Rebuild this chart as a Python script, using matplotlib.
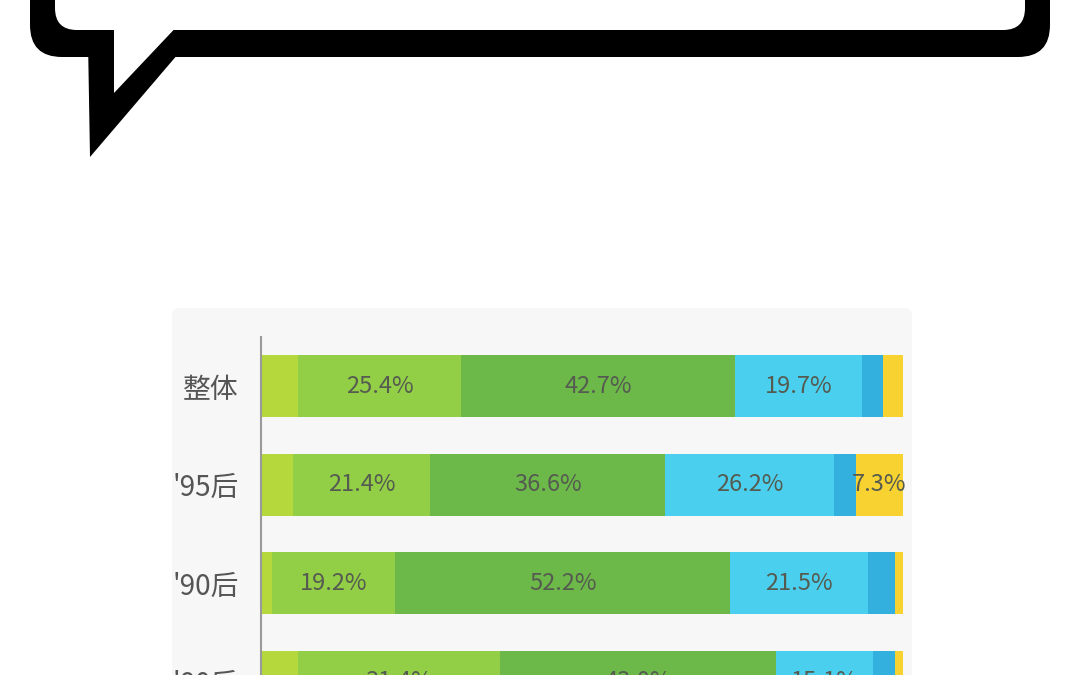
import matplotlib
matplotlib.use("Agg")
import matplotlib.pyplot as plt
from matplotlib.patches import FancyBboxPatch, Polygon
import numpy as np

plt.rcParams['font.family'] = ['Noto Sans CJK SC', 'DejaVu Sans']

# data
categories = ["整体", "'95后", "'90后", "'80后"]
seg1 = [5.8, 5.0, 1.7, 5.8]
seg2 = [25.4, 21.4, 19.2, 31.4]
seg3 = [42.7, 36.6, 52.2, 43.0]
seg4 = [19.7, 26.2, 21.5, 15.1]
seg5 = [3.3, 3.5, 4.2, 3.4]
seg6 = [3.1, 7.3, 1.2, 1.3]
series = [seg1, seg2, seg3, seg4, seg5, seg6]
colors = ['#b5d93c', '#92ce46', '#6cb94a', '#4ad0ee', '#34b0de', '#f7d230']

W, H = 1080, 675
fig = plt.figure(figsize=(W / 100, H / 100), dpi=100)
fig.patch.set_facecolor('white')

# background layer in pixel coords
bg = fig.add_axes([0, 0, 1, 1])
bg.set_xlim(0, W)
bg.set_ylim(H, 0)
bg.axis('off')

# speech bubble (top cut off)
bg.add_patch(FancyBboxPatch((30 + 32, -200), 1020 - 64, 257 - 32,
                            boxstyle="round,pad=32", fc='black', ec='none'))
bg.add_patch(Polygon([(88, 40), (90, 157), (190, 40)], closed=True, fc='black', ec='none'))
bg.add_patch(FancyBboxPatch((55 + 22, -200), 970 - 44, 230 - 22,
                            boxstyle="round,pad=22", fc='white', ec='none'))
bg.add_patch(Polygon([(114, 20), (114, 93), (183, 20)], closed=True, fc='white', ec='none'))

# chart panel
bg.add_patch(FancyBboxPatch((172 + 8, 308 + 8), 740 - 16, 500,
                            boxstyle="round,pad=8", fc='#f7f7f7', ec='none'))

# chart axes
top_px, bot_px = 337, 785
ax = fig.add_axes([261 / W, 1 - bot_px / H, 642 / W, (bot_px - top_px) / H])
ax.set_facecolor('none')
y = np.arange(len(categories))
left = np.zeros(len(categories))
for vals, c in zip(series, colors):
    vals = np.array(vals)
    ax.barh(y, vals, left=left, height=0.63, color=c, edgecolor='none')
    for yi, l, v in zip(y, left, vals):
        if v >= 7:
            ax.text(l + v / 2, yi, f"{v:.1f}%", ha='center', va='center',
                    fontsize=17, color='#555b50')
    left += vals

ax.set_xlim(0, 100)
ax.set_ylim(4.05, -0.5)
ax.set_yticks(y)
ax.set_yticklabels(categories, fontsize=20, color='#555555')
ax.tick_params(axis='y', length=0, pad=16)
ax.set_xticks([])
for s in ['top', 'right', 'bottom']:
    ax.spines[s].set_visible(False)
ax.spines['left'].set_color('#9a9a9a')
ax.spines['left'].set_linewidth(1.5)

fig.savefig('out.png', dpi=100)
